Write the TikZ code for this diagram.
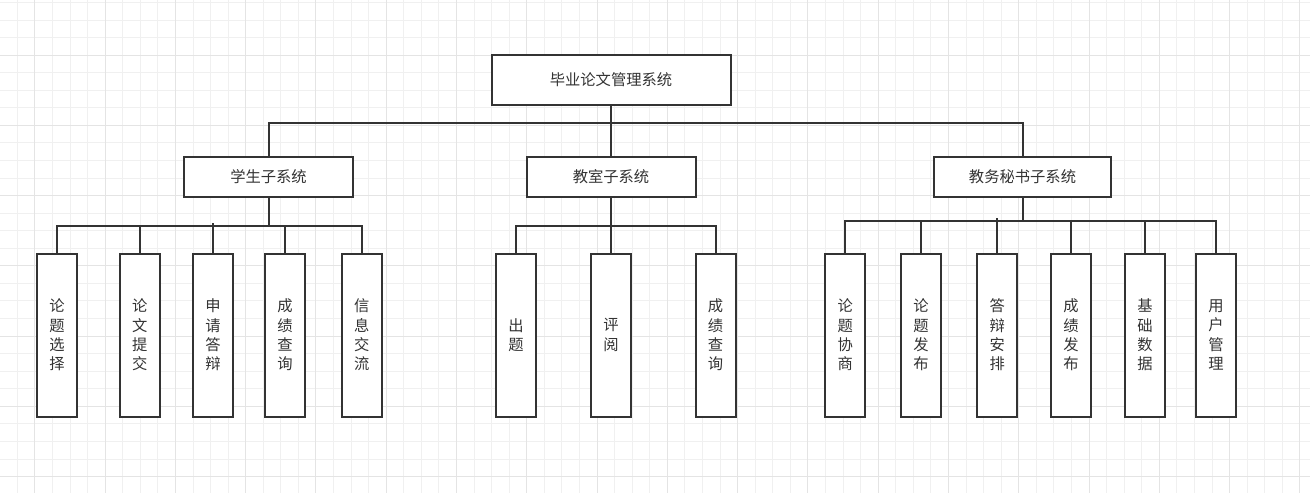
\documentclass[tikz,border=0pt]{standalone}
\usepackage{fontspec}
\newfontfamily\cjk{Noto Sans CJK SC}
\definecolor{ink}{HTML}{333333}
\definecolor{gminor}{HTML}{F0F0F0}
\definecolor{gmajor}{HTML}{E4E4E4}
\begin{document}
\begin{tikzpicture}[x=1pt,y=-1pt,
  box/.style={draw=ink, line width=2pt, fill=white, inner sep=0pt, font=\cjk\fontsize{15.3}{19.3}\selectfont, text=ink, align=center},
  topbox/.style={box, minimum width=239pt, minimum height=50pt},
  subbox/.style={box, minimum height=40pt},
  leaf/.style={box, minimum width=40pt, minimum height=163pt},
  link/.style={draw=ink, line width=2pt},
  gmin/.style={draw=gminor, line width=1pt},
  gmaj/.style={draw=gmajor, line width=1pt}]
\fill[white] (0,0) rectangle (1310,493);
\useasboundingbox (0,0) rectangle (1310,493);
% grid
\foreach \k in {0,...,73} {
  \pgfmathsetmacro\xx{17.3+17.57*\k}
  \draw[gmin] (\xx,0) -- (\xx,493);
}
\foreach \k in {-1,...,26} {
  \pgfmathsetmacro\yy{20+17.56*\k}
  \draw[gmin] (0,\yy) -- (1310,\yy);
}
\foreach \k in {1,5,...,73} {
  \pgfmathsetmacro\xx{17.3+17.57*\k}
  \draw[gmaj] (\xx,0) -- (\xx,493);
}
\foreach \k in {2,6,...,26} {
  \pgfmathsetmacro\yy{20+17.56*\k}
  \draw[gmaj] (0,\yy) -- (1310,\yy);
}
% nodes
\node[topbox] (top) at (611,80) {毕业论文管理系统};
\node[subbox, minimum width=169pt] (stu) at (268.5,177) {学生子系统};
\node[subbox, minimum width=169pt] (tea) at (611,177) {教室子系统};
\node[subbox, minimum width=177pt] (sec) at (1022.5,177) {教务秘书子系统};

\node[leaf] (s1) at (57,335) {论\\题\\选\\择};
\node[leaf] (s2) at (139.7,335) {论\\文\\提\\交};
\node[leaf] (s3) at (213,335) {申\\请\\答\\辩};
\node[leaf] (s4) at (285,335) {成\\绩\\查\\询};
\node[leaf] (s5) at (361.7,335) {信\\息\\交\\流};

\node[leaf] (t1) at (516,335) {出\\题};
\node[leaf] (t2) at (611,335) {评\\阅};
\node[leaf] (t3) at (715.5,335) {成\\绩\\查\\询};

\node[leaf] (m1) at (845.3,335) {论\\题\\协\\商};
\node[leaf] (m2) at (921,335) {论\\题\\发\\布};
\node[leaf] (m3) at (997.3,335) {答\\辩\\安\\排};
\node[leaf] (m4) at (1071,335) {成\\绩\\发\\布};
\node[leaf] (m5) at (1145,335) {基\\础\\数\\据};
\node[leaf] (m6) at (1216,335) {用\\户\\管\\理};

% buses
\coordinate (tb) at (0,122.7);
\coordinate (sb) at (0,226);
\coordinate (cb) at (0,225.7);
\coordinate (mb) at (0,221);

\draw[link] (stu.north) -- (stu.north |- tb) -- (sec.north |- tb) -- (sec.north);
\draw[link] (top.south) -- (tea.north);

\draw[link] (stu.south) -- (stu.south |- sb);
\draw[link] (s1.north) -- (s1.north |- sb) -- (s5.north |- sb) -- (s5.north);
\draw[link] (s2.north) -- (s2.north |- sb);
\draw[link] (s3.north) -- ([yshift=3pt]s3.north |- sb);
\draw[link] (s4.north) -- (s4.north |- sb);

\draw[link] (tea.south) -- (tea.south |- cb);
\draw[link] (t1.north) -- (t1.north |- cb) -- (t3.north |- cb) -- (t3.north);
\draw[link] (t2.north) -- (t2.north |- cb);

\draw[link] (sec.south) -- (sec.south |- mb);
\draw[link] (m1.north) -- (m1.north |- mb) -- (m6.north |- mb) -- (m6.north);
\draw[link] (m2.north) -- (m2.north |- mb);
\draw[link] (m3.north) -- ([yshift=3pt]m3.north |- mb);
\draw[link] (m4.north) -- (m4.north |- mb);
\draw[link] (m5.north) -- (m5.north |- mb);
\end{tikzpicture}
\end{document}
